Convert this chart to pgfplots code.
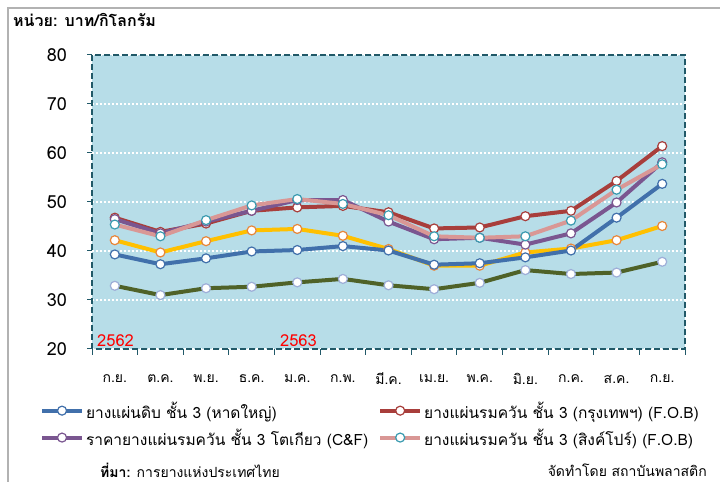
\documentclass[border=0pt]{standalone}
\usepackage{fontspec}
\usepackage{pgfplots}
\pgfplotsset{compat=1.18}
\setmainfont{Loma}[Script=Thai]
\definecolor{bgblue}{HTML}{B7DDE8}
\definecolor{frame}{HTML}{215968}
\definecolor{cblue}{HTML}{4170AB}
\definecolor{cred}{HTML}{A83E3B}
\definecolor{cpurple}{HTML}{7A5690}
\definecolor{cpink}{HTML}{D99795}
\definecolor{cyellow}{HTML}{FFC000}
\definecolor{cgreen}{HTML}{4F6228}
\definecolor{mteal}{HTML}{3A9BB0}
\definecolor{morange}{HTML}{E8863A}
\definecolor{mlav}{HTML}{9EAED8}
\pgfplotstableread{
x blue red purple pink yellow green
0 39.3 46.8 46.5 45.4 42.2 32.9
1 37.3 43.9 43.6 43.0 39.7 31.0
2 38.5 45.6 46.0 46.3 42.0 32.4
3 39.9 48.2 48.2 49.3 44.2 32.7
4 40.2 48.9 50.4 50.6 44.5 33.6
5 41.0 49.2 50.4 49.6 43.1 34.3
6 40.1 47.9 46.0 47.3 40.4 33.0
7 37.2 44.6 42.4 43.0 37.0 32.2
8 37.5 44.8 42.7 42.7 37.0 33.5
9 38.7 47.1 41.3 43.0 39.7 36.1
10 40.1 48.2 43.6 46.2 40.5 35.3
11 46.8 54.3 49.9 52.5 42.2 35.6
12 53.7 61.4 58.1 57.7 45.1 37.8
}\datatable
\begin{document}
\begin{tikzpicture}[x=1bp,y=1bp]
\useasboundingbox (0,0) rectangle (720,482);
\fill[white] (0,0) rectangle (720,482);
\draw[gray!60, line width=1.2bp] (8,0) -- (8,474) -- (720,474);
\node[anchor=west, inner sep=0, font=\bfseries\fontsize{16bp}{18bp}\selectfont] at (13,462) {หน่วย: บาท/กิโลกรัม};
\node[anchor=west, inner sep=0, font=\fontsize{14bp}{16bp}\selectfont] at (100,12) {\textbf{ที่มา:} การยางแห่งประเทศไทย};
\node[anchor=east, inner sep=0, font=\fontsize{14bp}{16bp}\selectfont] at (707,12) {จัดทำโดย สถาบันพลาสติก};
\begin{axis}[
  at={(92bp,133bp)}, anchor=south west,
  scale only axis, width=593bp, height=294bp,
  xmin=-0.5, xmax=12.5, ymin=20, ymax=80,
  axis background/.style={fill=bgblue},
  axis line style={draw=frame, line width=2bp, dash pattern=on 6bp off 3bp},
  tick pos=left,
  ytick={20,30,...,80},
  ymajorgrids,
  grid style={white, line width=1.5bp, dash pattern=on 1.5bp off 2.5bp},
  tick style={draw=frame, solid, line width=1bp},
  tick align=outside,
  major tick length=5bp,
  xtick={0,...,12},
  x tick style={draw=none},
  xticklabels={ก.ย.,ต.ค.,พ.ย.,ธ.ค.,ม.ค.,ก.พ.,มี.ค.,เม.ย.,พ.ค.,มิ.ย.,ก.ค.,ส.ค.,ก.ย.},
  xticklabel style={anchor=center, yshift=-25bp, font=\fontsize{14bp}{16bp}\selectfont},
  extra x ticks={-0.5,0.5,...,12.5},
  extra x tick labels={},
  extra x tick style={x tick style={draw=frame, solid, line width=1bp}, major tick length=6bp, grid=none},
  yticklabel style={anchor=east, inner sep=0pt, xshift=-20bp, font=\fontsize{18bp}{20bp}\selectfont},
  /pgf/number format/assume math mode=true,
  every axis plot/.append style={line width=4bp, mark=*, mark size=4.5bp},
  legend image code/.code={\draw[mark repeat=2,mark phase=2,#1] plot coordinates {(0bp,0bp) (20bp,0bp) (40bp,0bp)};},
  legend cell align=left,
  legend style={at={(rel axis cs:-0.093,-0.165)}, anchor=north west, draw=none, fill=none,
    font=\fontsize{15.5bp}{17bp}\selectfont, legend columns=2, row sep=5bp,
    nodes={inner sep=2bp},
    /tikz/every even column/.append style={column sep=8bp}},
]
\addplot[cgreen, mark options={draw=mlav, fill=white, line width=1.2bp}, forget plot] table[x=x,y=green] {\datatable};
\addplot[cyellow, mark options={draw=morange, fill=white, line width=1.2bp}, forget plot] table[x=x,y=yellow] {\datatable};
\addplot[cblue, mark options={draw=cblue, fill=white, line width=1.2bp}] table[x=x,y=blue] {\datatable};
\addlegendentry{ยางแผ่นดิบ ชั้น 3 (หาดใหญ่)}
\addplot[cred, mark options={draw=cred, fill=white, line width=1.2bp}] table[x=x,y=red] {\datatable};
\addlegendentry{ยางแผ่นรมควัน ชั้น 3 (กรุงเทพฯ) (F.O.B)}
\addplot[cpurple, mark options={draw=cpurple, fill=white, line width=1.2bp}] table[x=x,y=purple] {\datatable};
\addlegendentry{ราคายางแผ่นรมควัน ชั้น 3 โตเกียว (C\&F)}
\addplot[cpink, mark options={draw=mteal, fill=white, line width=1.2bp}] table[x=x,y=pink] {\datatable};
\addlegendentry{ยางแผ่นรมควัน ชั้น 3 (สิงค์โปร์) (F.O.B)}
\node[anchor=base west, inner sep=0, text=red, font=\fontsize{16.5bp}{18bp}\selectfont] at (axis cs:-0.39,20.6) {2562};
\node[anchor=base west, inner sep=0, text=red, font=\fontsize{16.5bp}{18bp}\selectfont] at (axis cs:3.62,20.6) {2563};
\end{axis}
\end{tikzpicture}
\end{document}
